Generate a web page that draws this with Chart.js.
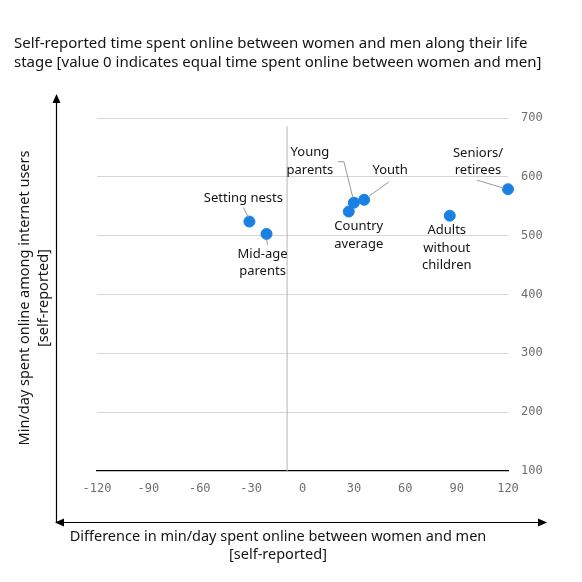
<!DOCTYPE html>
<html>
<head>
<meta charset="utf-8">
<script src="https://cdn.jsdelivr.net/npm/chart.js@4"></script>
<style>
  html, body { margin: 0; padding: 0; background: #fff; }
  #wrap { width: 582px; height: 582px; }
</style>
</head>
<body>
<div id="wrap"><canvas id="lifeStageChart"></canvas></div>
<script>
// life stage groups
var groups = ['Setting nests', 'Mid-age parents', 'Country average', 'Young parents', 'Youth', 'Adults without children', 'Seniors/retirees'];
var groupLines = [['Setting nests'], ['Mid-age', 'parents'], ['Country', 'average'], ['Young', 'parents'], ['Youth'], ['Adults', 'without', 'children'], ['Seniors/', 'retirees']];
var genderGap = [-31, -21, 27, 30, 36, 86, 120];       // women minus men, min/day
var minutesOnline = [524, 503, 541, 556, 561, 534, 579];
var xTicks = [-120, -90, -60, -30, 0, 30, 60, 90, 120];
var yTicks = [100, 200, 300, 400, 500, 600, 700];
var refLineX = [-9, -9];
var refLineY = [100, 686];

var titleLines = [
    'Self-reported time spent online between women and men along their life',
    'stage [value 0 indicates equal time spent online between women and men]'
];
var xTitle = ['Difference in min/day spent online between women and men', '[self-reported]'];
var yTitle = ['Min/day spent online among internet users', '[self-reported]'];

// label placement (pixel offsets from the point), leader paths
var labelPos = [
    { dx: -6, dy: -23, leader: [[-6, -14], [-1, -4]] },
    { dx: -4, dy: 20, leader: [[1, 11], [0, 5]] },
    { dx: 10, dy: 15 },
    { dx: -44, dy: -50, leader: [[-16, -41], [-10, -41], [-1, -5]] },
    { dx: 26, dy: -29, leader: [[25, -18], [4, -3]] },
    { dx: -3, dy: 15 },
    { dx: -30, dy: -36, leader: [[-31, -9], [-4, -1]] }
];

var txtFont = '"Noto Sans", "Open Sans", sans-serif';
var monoFont = '"DejaVu Sans Mono", "Liberation Mono", monospace';
var ink = '#141414';

function arrowHead(ctx, x, y, dir) {
    ctx.beginPath();
    if (dir === 'up') { ctx.moveTo(x, y); ctx.lineTo(x - 4, y + 9); ctx.lineTo(x + 4, y + 9); }
    if (dir === 'left') { ctx.moveTo(x, y); ctx.lineTo(x + 9, y - 4); ctx.lineTo(x + 9, y + 4); }
    if (dir === 'right') { ctx.moveTo(x, y); ctx.lineTo(x - 9, y - 4); ctx.lineTo(x - 9, y + 4); }
    ctx.closePath();
    ctx.fill();
}

var decorPlugin = {
    id: 'decor',
    afterDatasetsDraw: function (chart) {
        var ctx = chart.ctx;
        ctx.save();
        // title
        ctx.fillStyle = ink;
        ctx.font = '15px ' + txtFont;
        ctx.textAlign = 'left';
        ctx.textBaseline = 'middle';
        ctx.fillText(titleLines[0], 14, 44);
        ctx.fillText(titleLines[1], 14, 63);

        // axis arrows
        ctx.strokeStyle = '#000';
        ctx.fillStyle = '#000';
        ctx.lineWidth = 1.2;
        ctx.beginPath();
        ctx.moveTo(56.5, 522.5); ctx.lineTo(56.5, 100);
        ctx.moveTo(60, 522.5); ctx.lineTo(540, 522.5);
        ctx.stroke();
        arrowHead(ctx, 56.5, 94, 'up');
        arrowHead(ctx, 55, 522.5, 'left');
        arrowHead(ctx, 547, 522.5, 'right');

        // axis titles
        ctx.fillStyle = ink;
        ctx.font = '14.5px ' + txtFont;
        ctx.textAlign = 'center';
        ctx.fillText(xTitle[0], 278, 537);
        ctx.fillText(xTitle[1], 278, 555);
        ctx.save();
        ctx.translate(25, 298);
        ctx.rotate(-Math.PI / 2);
        ctx.fillText(yTitle[0], 0, 0);
        ctx.fillText(yTitle[1], 0, 19);
        ctx.restore();

        // point labels + leaders
        var meta = chart.getDatasetMeta(0);
        ctx.font = '13px ' + txtFont;
        meta.data.forEach(function (pt, i) {
            var p = labelPos[i];
            if (p.leader) {
                ctx.strokeStyle = '#999';
                ctx.lineWidth = 1;
                ctx.beginPath();
                p.leader.forEach(function (q, k) {
                    if (k === 0) ctx.moveTo(pt.x + q[0], pt.y + q[1]);
                    else ctx.lineTo(pt.x + q[0], pt.y + q[1]);
                });
                ctx.stroke();
            }
            ctx.fillStyle = ink;
            groupLines[i].forEach(function (line, k) {
                ctx.fillText(line, pt.x + p.dx, pt.y + p.dy + k * 17.5);
            });
        });
        ctx.restore();
    }
};

var ctx = document.getElementById('lifeStageChart').getContext('2d');
var lifeStageChart = new Chart(ctx, {
    type: 'scatter',
    data: {
        datasets: [{
            label: 'Life stages',
            data: genderGap.map(function (g, i) { return { x: g, y: minutesOnline[i] }; }),
            backgroundColor: '#1a80e3',
            borderColor: '#1a80e3',
            pointRadius: 5.5,
            pointHoverRadius: 5.5,
            clip: false,
            order: 0
        }, {
            type: 'line',
            label: 'zero line',
            data: refLineX.map(function (x, i) { return { x: x, y: refLineY[i] }; }),
            borderColor: '#b5b5b5',
            borderWidth: 1,
            pointRadius: 0,
            order: 1
        }]
    },
    options: {
        responsive: true,
        maintainAspectRatio: false,
        animation: false,
        layout: { padding: { left: 97, top: 118, right: 0, bottom: 0 } },
        plugins: {
            legend: { display: false },
            tooltip: { enabled: false }
        },
        scales: {
            x: {
                type: 'linear',
                min: -120,
                max: 120,
                afterBuildTicks: function (scale) {
                    scale.ticks = xTicks.map(function (v) { return { value: v }; });
                },
                afterFit: function (scale) { scale.height = 111; },
                grid: { display: false, drawTicks: false },
                border: { display: true, color: '#000', width: 1.2 },
                ticks: {
                    padding: 11,
                    color: '#6e6e6e',
                    font: { family: monoFont, size: 12 }
                }
            },
            y: {
                type: 'linear',
                position: 'right',
                min: 100,
                max: 700,
                afterBuildTicks: function (scale) {
                    scale.ticks = yTicks.map(function (v) { return { value: v }; });
                },
                afterFit: function (scale) { scale.width = 74; },
                grid: {
                    drawTicks: false,
                    color: function (c) { return c.tick && c.tick.value === 100 ? 'rgba(0,0,0,0)' : '#d6d6d6'; }
                },
                border: { display: false },
                ticks: {
                    padding: 13,
                    color: '#6e6e6e',
                    font: { family: monoFont, size: 12 }
                }
            }
        }
    },
    plugins: [decorPlugin]
});
</script>
</body>
</html>
